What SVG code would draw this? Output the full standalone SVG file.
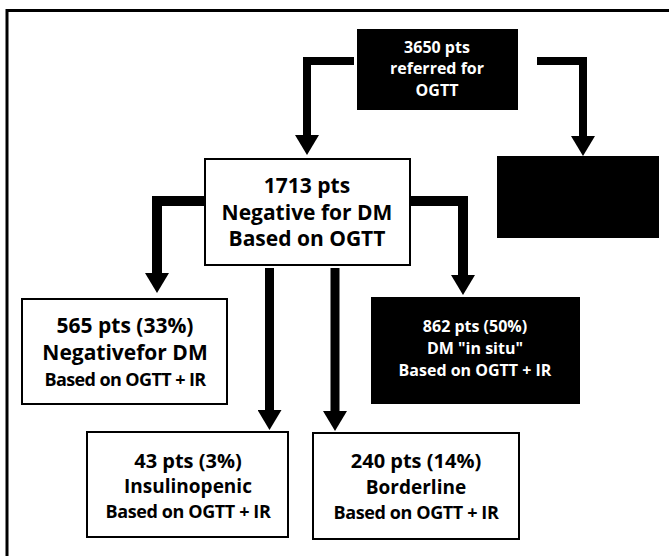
<svg xmlns="http://www.w3.org/2000/svg" width="669" height="556" viewBox="0 0 669 556">
<style>
.frame{fill:none;stroke:#000;stroke-width:3}
.box{fill:#fff;stroke:#000;stroke-width:2}
.dark{fill:#000;stroke:#000;stroke-width:2}
.t{font-family:"Open Sans","DejaVu Sans",sans-serif;font-weight:bold;text-anchor:middle;fill:#000}
.w{fill:#fff}
.a{fill:none;stroke:#000;stroke-linejoin:miter;marker-end:url(#ah)}
</style>
<defs>
<marker id="ah" markerUnits="userSpaceOnUse" markerWidth="20" markerHeight="24" viewBox="0 -12 20 24" refX="0" refY="0" orient="auto">
<path d="M0,-12 L20,0 L0,12 Z" fill="#000"/>
</marker>
</defs>
<rect width="669" height="556" fill="#fff"/>
<path class="frame" d="M7,556 V10.5 H669"/>
<g id="connectors">
<path class="a" stroke-width="8" d="M354,61 H307 V135"/>
<path class="a" stroke-width="8" d="M537,61 H583 V136"/>
<path class="a" stroke-width="10" d="M204,201 H157 V273"/>
<path class="a" stroke-width="10" d="M411,201 H463 V275"/>
<path class="a" stroke-width="9" d="M269.5,268 V410"/>
<path class="a" stroke-width="9" d="M335,268 V411"/>
</g>
<g id="n-referred">
<rect class="dark" x="358" y="30" width="159" height="79"/>
<text class="t w" font-size="16" x="437" y="53">3650 pts</text>
<text class="t w" font-size="16" x="437" y="74">referred for</text>
<text class="t w" font-size="16" x="437" y="96">OGTT</text>
</g>
<g id="n-positive">
<rect class="dark" x="498" y="157" width="160" height="80"/>
</g>
<g id="n-negative">
<rect class="box" x="205" y="159" width="205" height="106"/>
<text class="t" font-size="21" x="307" y="193">1713 pts</text>
<text class="t" font-size="21" x="307" y="220">Negative for DM</text>
<text class="t" font-size="21" x="307" y="246">Based on OGTT</text>
</g>
<g id="n-565">
<rect class="box" x="22" y="299" width="205" height="105"/>
<text class="t" font-size="21" x="125" y="333">565 pts (33%)</text>
<text class="t" font-size="21" x="125" y="360">Negativefor DM</text>
<text class="t" font-size="18" x="125" y="386" letter-spacing="-0.6">Based on OGTT + IR</text>
</g>
<g id="n-862">
<rect class="dark" x="372" y="298" width="207" height="105"/>
<text class="t w" font-size="16" x="475" y="332">862 pts (50%)</text>
<text class="t w" font-size="16" x="475" y="354">DM "in situ"</text>
<text class="t w" font-size="16" x="475" y="376">Based on OGTT + IR</text>
</g>
<g id="n-43">
<rect class="box" x="87" y="432" width="201" height="105"/>
<text class="t" font-size="20" x="188" y="468">43 pts (3%)</text>
<text class="t" font-size="19" x="188" y="493">Insulinopenic</text>
<text class="t" font-size="18" x="188" y="518" letter-spacing="-0.4">Based on OGTT + IR</text>
</g>
<g id="n-240">
<rect class="box" x="313" y="433" width="206" height="106"/>
<text class="t" font-size="20" x="416" y="468">240 pts (14%)</text>
<text class="t" font-size="19" x="416" y="494">Borderline</text>
<text class="t" font-size="18" x="416" y="519" letter-spacing="-0.4">Based on OGTT + IR</text>
</g>
</svg>
